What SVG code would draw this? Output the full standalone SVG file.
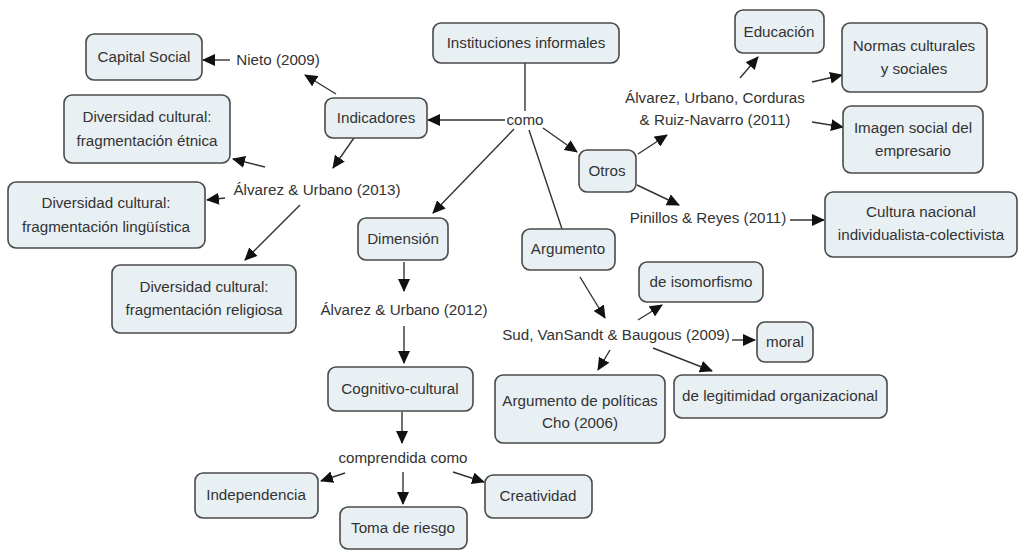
<svg xmlns="http://www.w3.org/2000/svg" width="1033" height="551" viewBox="0 0 1033 551">
<style>
.box{fill:#e9f0f4;stroke:#4a4a4a;stroke-width:1.6}
.t{font-family:"Liberation Sans",Arial,sans-serif;font-size:15.2px;fill:#333;text-anchor:middle}
.c{stroke:#333;stroke-width:1.4;fill:none}
.a{stroke:#333;stroke-width:1.4;fill:none;marker-end:url(#ah)}
</style>
<defs>
<marker id="ah" markerUnits="userSpaceOnUse" markerWidth="13" markerHeight="12" refX="12" refY="6" orient="auto">
<path d="M0,0 L13,6 L0,12 z" fill="#111"/>
</marker>
</defs>
<rect width="1033" height="551" fill="#fff"/>
<g id="connectors">
<line class="c" x1="525" y1="63" x2="525" y2="111"/>
<line class="a" x1="505" y1="120" x2="428" y2="120"/>
<line class="a" x1="514" y1="129" x2="433" y2="213"/>
<line class="c" x1="529" y1="130" x2="562" y2="229"/>
<line class="a" x1="543" y1="128" x2="577" y2="152"/>
<line class="a" x1="336" y1="94" x2="305" y2="75"/>
<line class="a" x1="230" y1="60" x2="203" y2="60"/>
<line class="a" x1="356" y1="135" x2="333" y2="168"/>
<line class="a" x1="265" y1="167" x2="233" y2="159"/>
<line class="a" x1="225" y1="198" x2="207" y2="200"/>
<line class="a" x1="300" y1="205" x2="245" y2="260"/>
<line class="a" x1="404" y1="262" x2="404" y2="291"/>
<line class="a" x1="404" y1="326" x2="404" y2="363"/>
<line class="a" x1="402" y1="412" x2="402" y2="443"/>
<line class="a" x1="345" y1="473" x2="321" y2="481"/>
<line class="a" x1="403" y1="472" x2="403" y2="504"/>
<line class="a" x1="453" y1="472" x2="484" y2="482"/>
<line class="a" x1="638" y1="154" x2="667" y2="135"/>
<line class="a" x1="740" y1="78" x2="758" y2="57"/>
<line class="a" x1="812" y1="82" x2="842" y2="75"/>
<line class="a" x1="812" y1="122" x2="843" y2="127"/>
<line class="a" x1="637" y1="185" x2="679" y2="205"/>
<line class="a" x1="790" y1="220" x2="824" y2="220"/>
<line class="a" x1="580" y1="277" x2="605" y2="318"/>
<line class="a" x1="638" y1="320" x2="662" y2="305"/>
<line class="a" x1="732" y1="340" x2="755" y2="340"/>
<line class="a" x1="653" y1="348" x2="712" y2="371"/>
<line class="a" x1="610" y1="350" x2="598" y2="370"/>
</g>
<g id="n-instituciones"><rect class="box" x="433" y="23" width="186" height="40" rx="8"/><text class="t" x="526" y="48">Instituciones informales</text></g>
<g id="n-capital"><rect class="box" x="86" y="34" width="116" height="46" rx="8"/><text class="t" x="144" y="62">Capital Social</text></g>
<g id="n-indicadores"><rect class="box" x="325" y="98" width="102" height="40" rx="8"/><text class="t" x="376" y="123">Indicadores</text></g>
<g id="n-etnica"><rect class="box" x="64" y="95" width="166" height="68" rx="8"/><text class="t" x="147" y="122">Diversidad cultural:</text><text class="t" x="147" y="146">fragmentación étnica</text></g>
<g id="n-linguistica"><rect class="box" x="8" y="182" width="197" height="66" rx="8"/><text class="t" x="106" y="208">Diversidad cultural:</text><text class="t" x="106" y="232">fragmentación lingüística</text></g>
<g id="n-religiosa"><rect class="box" x="112" y="265" width="184" height="68" rx="8"/><text class="t" x="204" y="292">Diversidad cultural:</text><text class="t" x="204" y="315">fragmentación religiosa</text></g>
<g id="n-dimension"><rect class="box" x="358" y="218" width="90" height="42" rx="8"/><text class="t" x="403" y="244">Dimensión</text></g>
<g id="n-cognitivo"><rect class="box" x="328" y="367" width="145" height="44" rx="8"/><text class="t" x="400" y="394">Cognitivo-cultural</text></g>
<g id="n-independencia"><rect class="box" x="195" y="473" width="123" height="45" rx="8"/><text class="t" x="256" y="500">Independencia</text></g>
<g id="n-toma"><rect class="box" x="340" y="507" width="127" height="42" rx="8"/><text class="t" x="403" y="533">Toma de riesgo</text></g>
<g id="n-creatividad"><rect class="box" x="485" y="475" width="107" height="43" rx="8"/><text class="t" x="538" y="501">Creatividad</text></g>
<g id="n-argumento"><rect class="box" x="522" y="229" width="93" height="41" rx="8"/><text class="t" x="568" y="254">Argumento</text></g>
<g id="n-otros"><rect class="box" x="579" y="150" width="57" height="42" rx="8"/><text class="t" x="607" y="176">Otros</text></g>
<g id="n-educacion"><rect class="box" x="735" y="10" width="89" height="43" rx="8"/><text class="t" x="779" y="37">Educación</text></g>
<g id="n-normas"><rect class="box" x="842" y="23" width="145" height="69" rx="8"/><text class="t" x="914" y="51">Normas culturales</text><text class="t" x="914" y="74">y sociales</text></g>
<g id="n-imagen"><rect class="box" x="843" y="106" width="140" height="67" rx="8"/><text class="t" x="913" y="133">Imagen social del</text><text class="t" x="913" y="156">empresario</text></g>
<g id="n-cultura"><rect class="box" x="825" y="192" width="192" height="65" rx="8"/><text class="t" x="921" y="217">Cultura nacional</text><text class="t" x="921" y="240">individualista-colectivista</text></g>
<g id="n-isomorfismo"><rect class="box" x="639" y="262" width="124" height="40" rx="8"/><text class="t" x="701" y="287">de isomorfismo</text></g>
<g id="n-moral"><rect class="box" x="757" y="322" width="56" height="40" rx="8"/><text class="t" x="785" y="347">moral</text></g>
<g id="n-legitimidad"><rect class="box" x="674" y="375" width="213" height="43" rx="8"/><text class="t" x="780" y="401">de legitimidad organizacional</text></g>
<g id="n-politicas"><rect class="box" x="495" y="375" width="170" height="68" rx="8"/><text class="t" x="580" y="406">Argumento de políticas</text><text class="t" x="580" y="428">Cho (2006)</text></g>
<g id="labels">
<text class="t" x="525" y="125">como</text>
<text class="t" x="278" y="65">Nieto (2009)</text>
<text class="t" x="317" y="195">Álvarez &amp; Urbano (2013)</text>
<text class="t" x="404" y="315">Álvarez &amp; Urbano (2012)</text>
<text class="t" x="403" y="463">comprendida como</text>
<text class="t" x="715" y="103">Álvarez, Urbano, Corduras</text>
<text class="t" x="715" y="125">&amp; Ruiz-Navarro (2011)</text>
<text class="t" x="708" y="223">Pinillos &amp; Reyes (2011)</text>
<text class="t" x="616" y="340">Sud, VanSandt &amp; Baugous (2009)</text>
</g>
</svg>
